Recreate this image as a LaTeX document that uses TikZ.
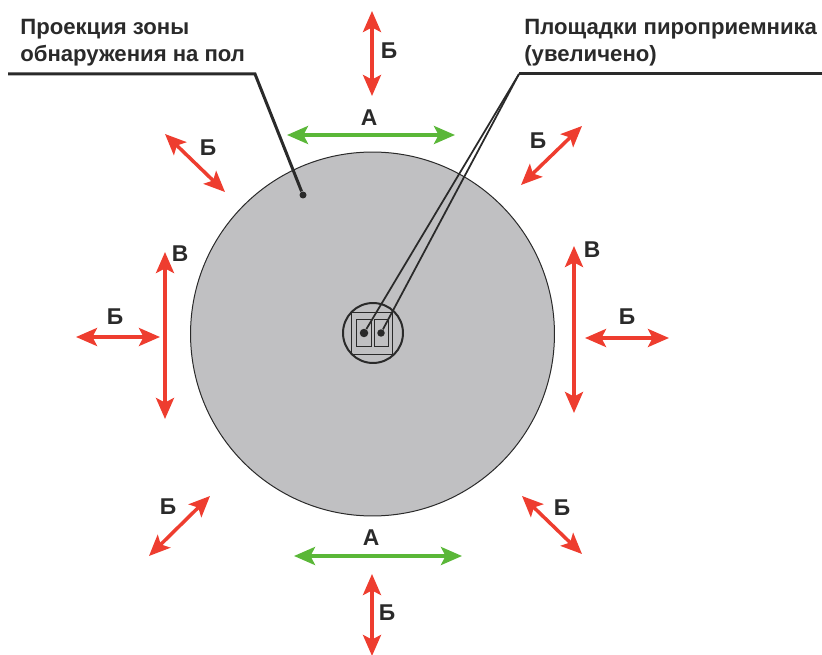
\documentclass[tikz,border=0pt]{standalone}
\usepackage{fontspec}
\setmainfont{Liberation Sans}
\usepackage{tikz}
\usetikzlibrary{arrows.meta}

\definecolor{zonegray}{HTML}{C0C0C2}
\definecolor{arrred}{HTML}{EE3D2F}
\definecolor{arrgreen}{HTML}{5AB738}
\definecolor{inkdark}{HTML}{2A2A2A}

\tikzset{
  redarr/.style={{Stealth[length=0.42cm,width=0.36cm,inset=0.09cm]}-{Stealth[length=0.42cm,width=0.36cm,inset=0.09cm]}, draw=arrred, fill=arrred, line width=0.07cm},
  greenarr/.style={{Stealth[length=0.42cm,width=0.36cm,inset=0.09cm]}-{Stealth[length=0.42cm,width=0.36cm,inset=0.09cm]}, draw=arrgreen, fill=arrgreen, line width=0.07cm},
  leadthick/.style={draw=inkdark, line width=0.06cm, line join=miter},
  leadthin/.style={draw=inkdark, line width=0.035cm},
  letter/.style={font=\fontsize{13}{13}\selectfont\bfseries, text=inkdark, inner sep=0pt},
  caption/.style={font=\fontsize{12.6}{15.3}\selectfont\bfseries, text=inkdark, inner sep=0pt, align=left, anchor=north west},
  dotmark/.style={circle, fill=inkdark, inner sep=0pt}
}

\begin{document}
\begin{tikzpicture}[x=0.02cm, y=-0.02cm]
  \useasboundingbox (0,0) rectangle (822,655);

  % zone and sensor
  \node[circle, draw=inkdark, fill=zonegray, line width=0.02cm, minimum size=7.28cm, inner sep=0pt] (zone) at (372.5,334) {};
  \node[circle, draw=inkdark, line width=0.04cm, minimum size=1.2cm, inner sep=0pt] (lens) at (373,333) {};
  \node[draw=inkdark, line width=0.02cm, minimum width=0.84cm, minimum height=0.86cm, inner sep=0pt] (frame) at (372,333.5) {};
  \node[draw=inkdark, line width=0.02cm, minimum width=0.29cm, minimum height=0.56cm, inner sep=0pt] (padl) at (364,333) {};
  \node[draw=inkdark, line width=0.02cm, minimum width=0.28cm, minimum height=0.56cm, inner sep=0pt] (padr) at (381.5,333) {};
  \node[dotmark, minimum size=0.17cm] (dotl) at (364,333) {};
  \node[dotmark, minimum size=0.15cm] (dotr) at (381,333) {};
  \node[dotmark, minimum size=0.14cm] (dotz) at (303,195) {};

  % leaders
  \coordinate (capl) at (8,74);
  \coordinate (bendl) at (255,74);
  \coordinate (capr) at (822,74);
  \coordinate (bendr) at (519,74);
  \draw[leadthick] (capl) -- (bendl) -- (dotz);
  \draw[leadthick] (capr) -- (bendr);
  \draw[leadthin] (bendr) -- (dotl);
  \draw[leadthin] (bendr) -- (dotr);

  % captions
  \node[caption] (capzone) at (20,19) {Проекция зоны\\обнаружения на пол};
  \node[caption] (cappad) at (524,19) {Площадки пироприемника\\(увеличено)};

  % arrow ends
  \coordinate (ta) at (372,11);   \coordinate (tb) at (372,96);
  \coordinate (ga) at (287,135);  \coordinate (gb) at (455,135);
  \coordinate (tla) at (165,134); \coordinate (tlb) at (225,192);
  \coordinate (tra) at (582,126); \coordinate (trb) at (521,185);
  \coordinate (va) at (165,252);  \coordinate (vb) at (165,419);
  \coordinate (la) at (76,337);   \coordinate (lb) at (160,337);
  \coordinate (wa) at (574,246);  \coordinate (wb) at (574,413);
  \coordinate (ra) at (585,338);  \coordinate (rb) at (669,338);
  \coordinate (bla) at (210,496); \coordinate (blb) at (149,556);
  \coordinate (bra) at (522,496); \coordinate (brb) at (582,554);
  \coordinate (ha) at (294,556);  \coordinate (hb) at (462,556);
  \coordinate (ba) at (372,574);  \coordinate (bb) at (372,656);

  \draw[redarr] (ta) -- (tb);
  \draw[greenarr] (ga) -- (gb);
  \draw[redarr] (tla) -- (tlb);
  \draw[redarr] (tra) -- (trb);
  \draw[redarr] (va) -- (vb);
  \draw[redarr] (la) -- (lb);
  \draw[redarr] (wa) -- (wb);
  \draw[redarr] (ra) -- (rb);
  \draw[redarr] (bla) -- (blb);
  \draw[redarr] (bra) -- (brb);
  \draw[greenarr] (ha) -- (hb);
  \draw[redarr] (ba) -- (bb);

  % letters
  \node[letter] (lt) at (389,51) {Б};
  \node[letter] (lga) at (369,118) {А};
  \node[letter] (ltl) at (208,148) {Б};
  \node[letter] (ltr) at (538,141) {Б};
  \node[letter] (lv) at (180,254) {В};
  \node[letter] (ll) at (115,317) {Б};
  \node[letter] (lw) at (592,250) {В};
  \node[letter] (lr) at (627,317) {Б};
  \node[letter] (lbl) at (168,507) {Б};
  \node[letter] (lbr) at (562,508) {Б};
  \node[letter] (lgb) at (371,538) {А};
  \node[letter] (lb2) at (387,613) {Б};
\end{tikzpicture}
\end{document}
